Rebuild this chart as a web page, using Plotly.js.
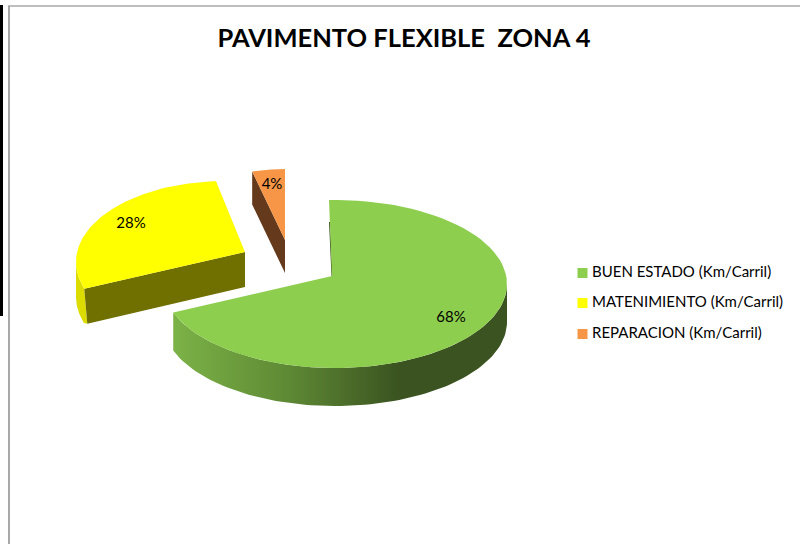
<!DOCTYPE html>
<html>
<head>
<meta charset="utf-8">
<script src="https://cdn.plot.ly/plotly-3.0.1.min.js"></script>
<style>html,body{margin:0;padding:0;background:#fff}#chart{width:800px;height:544px}</style>
</head>
<body>
<div id="chart"></div>
<script>
// Data
var categories = ['BUEN ESTADO (Km/Carril)', 'MATENIMIENTO (Km/Carril)', 'REPARACION (Km/Carril)'];
var percentValues = [68, 28, 4];
var chartTitle = 'PAVIMENTO FLEXIBLE  ZONA 4';

// Styles
var topColors = ['#8ECE4F', '#FFFF00', '#F79646'];
var outerSideColors = ['#6f9e3e', '#dcdc00', '#653a1c'];
var cutSideColors = ['#3a5320', '#707000', '#653a1c'];

// Geometry of the exploded, tilted pie (pixel space of the hidden axes)
var ellipseCX = [335, 225, 285];
var ellipseCY = [284, 262, 250];
var radiusX = [172, 149, 132];
var radiusY = [84, 81, 81];
var apexX = [332, 245, 285];
var apexY = [276, 252, 240];
var depth = [38, 35, 33];
var angleShift = [-2, 6, 0];
var angleStretch = [1.03, 1.049, 1];
var labelX = [451, 131, 272];
var labelY = [318, 224, 185];
var legendMarkerX = [582.5, 582.5, 582.5];
var legendTextX = [592, 592, 592];
var legendY = [273, 303, 334];
var legendTextY = [273.5, 303.5, 334.5];

var total = percentValues.reduce(function (a, b) { return a + b; }, 0);
var traces = [];

function arcPoints(i, a0, a1, dy) {
  var xs = [], ys = [], n = 80;
  for (var k = 0; k <= n; k++) {
    var t = (a0 + (a1 - a0) * k / n) * Math.PI / 180;
    xs.push(ellipseCX[i] + radiusX[i] * Math.sin(t));
    ys.push(ellipseCY[i] - radiusY[i] * Math.cos(t) + dy);
  }
  return {x: xs, y: ys};
}
function poly(xs, ys, color, extra) {
  var t = {type: 'scatter', mode: 'lines', x: xs.concat([xs[0]]), y: ys.concat([ys[0]]),
    fill: 'toself', fillcolor: color, line: {width: 0, color: color},
    hoverinfo: 'skip', showlegend: false};
  for (var k in extra) t[k] = extra[k];
  return t;
}

var start = 0, ranges = [];
percentValues.forEach(function (v, i) {
  var span = v / total * 360 * angleStretch[i];
  ranges.push([start + angleShift[i], start + angleShift[i] + span]);
  start += v / total * 360;
});

// Green slice: rounded outer wall seen from the left end to the right-most point
(function () {
  var i = 0, a = ranges[i];
  var top = arcPoints(i, 90, a[1], 0), bot = arcPoints(i, 90, a[1], depth[i]);
  traces.push(poly(top.x.concat(bot.x.slice().reverse()), top.y.concat(bot.y.slice().reverse()), outerSideColors[i], {
    fillgradient: {type: 'horizontal', start: 172, stop: 400,
      colorscale: [[0, '#7cb347'], [0.5, '#5f8a35'], [1, '#3a5320']]}
  }));
  traces[0].fillcolor = undefined;
  traces.push({type: 'scatter', mode: 'lines', x: [329.5, apexX[i]], y: [222, apexY[i]],
    line: {color: cutSideColors[i], width: 1}, hoverinfo: 'skip', showlegend: false});
})();

// Yellow slice walls
(function () {
  var i = 1, a = ranges[i];
  var end = arcPoints(i, a[0], a[0], 0);
  var ex = end.x[0], ey = end.y[0];
  var top = arcPoints(i, 270, a[0], 0), bot = arcPoints(i, 270, a[0], depth[i]);
  traces.push(poly(top.x.concat([ex + 3]).concat(bot.x.slice().reverse()),
    top.y.concat([ey + depth[i]]).concat(bot.y.slice().reverse()), outerSideColors[i]));
  traces.push(poly([apexX[i], ex, ex + 3, apexX[i]], [apexY[i], ey, ey + depth[i], apexY[i] + depth[i]], cutSideColors[i]));
})();

// Orange slice wall
(function () {
  var i = 2, a = ranges[i];
  var end = arcPoints(i, a[0], a[0], 0);
  var ex = end.x[0], ey = end.y[0];
  traces.push(poly([apexX[i], ex, ex, apexX[i]], [apexY[i], ey, ey + depth[i], apexY[i] + depth[i]], cutSideColors[i]));
})();

// Top faces
percentValues.forEach(function (v, i) {
  var arc = arcPoints(i, ranges[i][0], ranges[i][1], 0);
  traces.push(poly([apexX[i]].concat(arc.x), [apexY[i]].concat(arc.y), topColors[i]));
});

// Percent labels
traces.push({type: 'scatter', mode: 'text', x: labelX, y: labelY,
  text: percentValues.map(function (v) { return v + '%'; }),
  textposition: 'middle center',
  textfont: {family: 'Lato, sans-serif', size: 15, color: '#000'},
  hoverinfo: 'skip', showlegend: false});

// Legend keys and entries
traces.push({type: 'scatter', mode: 'markers', x: legendMarkerX, y: legendY,
  marker: {symbol: 'square', size: 10, color: topColors}, hoverinfo: 'skip', showlegend: false});
traces.push({type: 'scatter', mode: 'text', x: legendTextX, y: legendTextY, text: categories,
  textposition: 'middle right',
  textfont: {family: 'Lato, sans-serif', size: 15, color: '#000'},
  hoverinfo: 'skip', showlegend: false});

var layout = {
  width: 800, height: 544,
  margin: {l: 0, r: 0, t: 0, b: 0},
  paper_bgcolor: '#fff', plot_bgcolor: '#fff',
  showlegend: false,
  title: {text: '<b>' + chartTitle + '</b>', x: 404 / 800, xanchor: 'center', y: 1 - 38 / 544, yanchor: 'middle', yref: 'paper',
    font: {family: 'Lato, sans-serif', size: 25.5, color: '#000'}},
  xaxis: {visible: false, range: [0, 800], fixedrange: true},
  yaxis: {visible: false, range: [544, 0], fixedrange: true},
  shapes: [
    {type: 'line', xref: 'x', yref: 'y', x0: 9, x1: 9, y0: 6, y1: 544, line: {color: '#a9a9a9', width: 2}},
    {type: 'line', xref: 'x', yref: 'y', x0: 8, x1: 800, y0: 6, y1: 6, line: {color: '#a9a9a9', width: 1.5}},
    {type: 'rect', xref: 'x', yref: 'y', x0: 0, x1: 3, y0: 5, y1: 316, line: {width: 0}, fillcolor: '#000'}
  ]
};
Plotly.newPlot('chart', traces, layout, {displayModeBar: false, staticPlot: true});
</script>
</body>
</html>
